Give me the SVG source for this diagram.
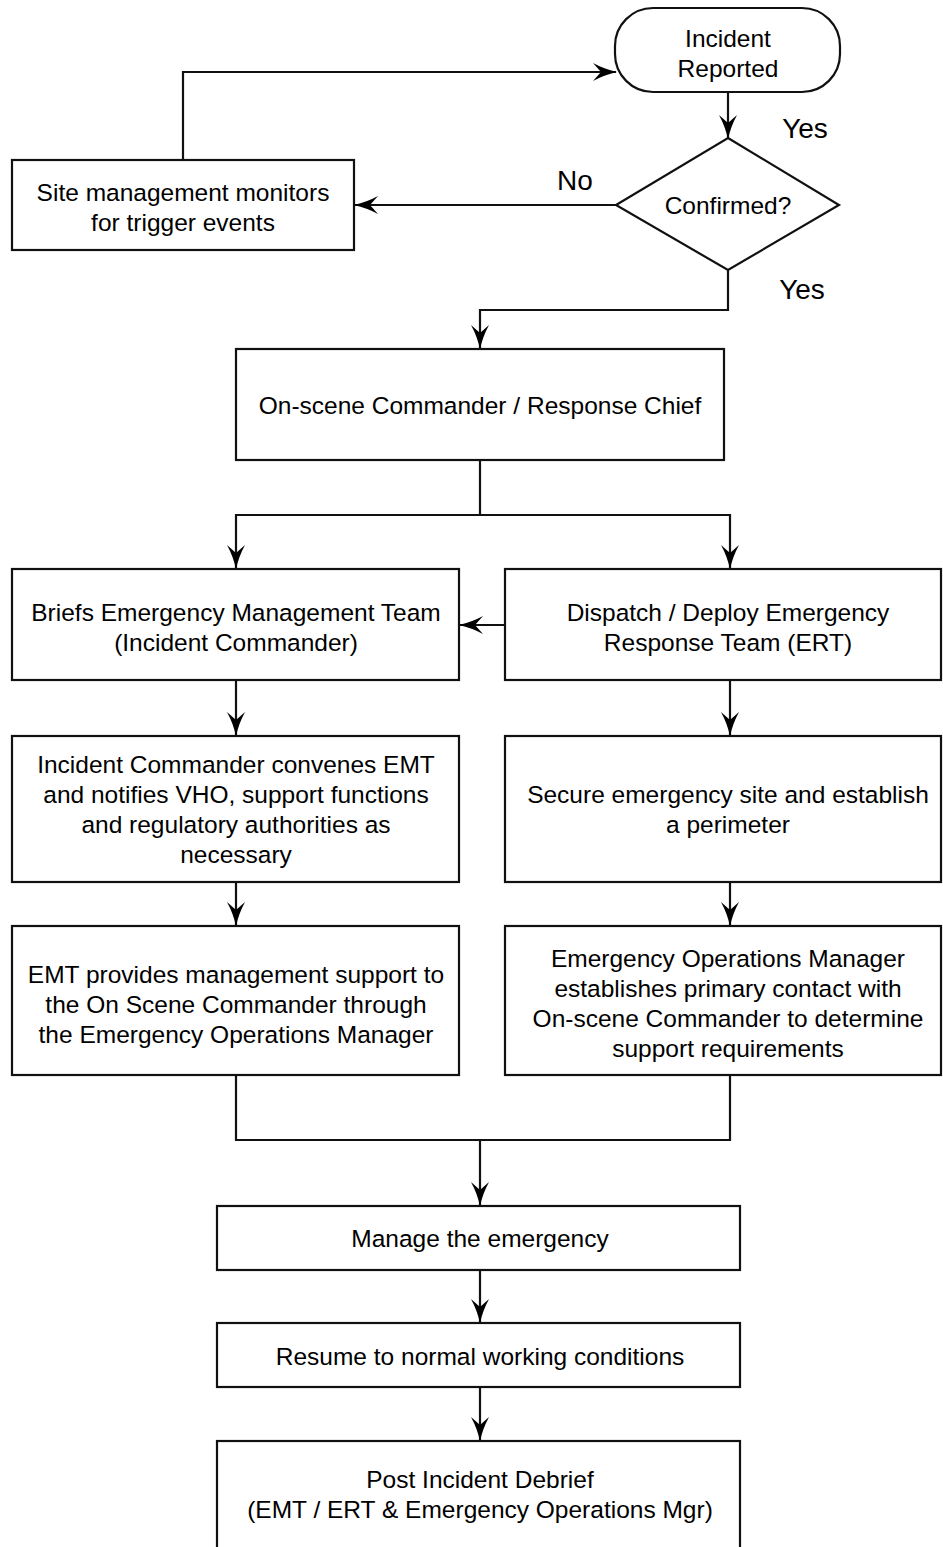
<svg xmlns="http://www.w3.org/2000/svg" width="943" height="1547" viewBox="0 0 943 1547">
<style>
.box{fill:#fff;stroke:#111;stroke-width:2.2}
.ln{fill:none;stroke:#111;stroke-width:2.2}
text{font-family:"Liberation Sans",Arial,sans-serif;font-size:24.5px;fill:#000;text-anchor:middle}
.lbl{font-size:28px}
</style>
<defs>
<marker id="ah" viewBox="0 0 24 18" markerWidth="24" markerHeight="18" refX="23" refY="9" orient="auto" markerUnits="userSpaceOnUse">
<path d="M0,0 Q11,6 24,9 Q11,12 0,18 L8,9 z" fill="#000"/>
</marker>
</defs>
<g id="connectors">
<path class="ln" d="M183,160 V72 H616" marker-end="url(#ah)"/>
<path class="ln" d="M728,92 V138" marker-end="url(#ah)"/>
<path class="ln" d="M616,205 H355" marker-end="url(#ah)"/>
<path class="ln" d="M728,270 V310 H480 V348" marker-end="url(#ah)"/>
<path class="ln" d="M480,460 V515 H236 V568" marker-end="url(#ah)"/>
<path class="ln" d="M480,515 H730 V568" marker-end="url(#ah)"/>
<path class="ln" d="M505,625 H460" marker-end="url(#ah)"/>
<path class="ln" d="M236,680 V735" marker-end="url(#ah)"/>
<path class="ln" d="M730,680 V735" marker-end="url(#ah)"/>
<path class="ln" d="M236,882 V925" marker-end="url(#ah)"/>
<path class="ln" d="M730,882 V925" marker-end="url(#ah)"/>
<path class="ln" d="M236,1075 V1140 H730 V1075"/>
<path class="ln" d="M480,1140 V1205" marker-end="url(#ah)"/>
<path class="ln" d="M480,1270 V1322" marker-end="url(#ah)"/>
<path class="ln" d="M480,1387 V1440" marker-end="url(#ah)"/>
</g>
<g id="lbl-yes1"><text class="lbl" x="805" y="138">Yes</text></g>
<g id="lbl-no"><text class="lbl" x="575" y="190">No</text></g>
<g id="lbl-yes2"><text class="lbl" x="802" y="299">Yes</text></g>
<g id="n-incident">
<rect class="box" x="615" y="8" width="225" height="84" rx="38" ry="38"/>
<text x="728" y="47">Incident</text>
<text x="728" y="77">Reported</text>
</g>
<g id="n-confirmed">
<polygon class="box" points="728,138 839,205 728,270 616,205"/>
<text x="728" y="214">Confirmed?</text>
</g>
<g id="n-site">
<rect class="box" x="12" y="160" width="342" height="90"/>
<text x="183" y="201">Site management monitors</text>
<text x="183" y="231">for trigger events</text>
</g>
<g id="n-onscene">
<rect class="box" x="236" y="349" width="488" height="111"/>
<text x="480" y="414">On-scene Commander / Response Chief</text>
</g>
<g id="n-briefs">
<rect class="box" x="12" y="569" width="447" height="111"/>
<text x="236" y="621">Briefs Emergency Management Team</text>
<text x="236" y="651">(Incident Commander)</text>
</g>
<g id="n-dispatch">
<rect class="box" x="505" y="569" width="436" height="111"/>
<text x="728" y="621">Dispatch / Deploy Emergency</text>
<text x="728" y="651">Response Team (ERT)</text>
</g>
<g id="n-convenes">
<rect class="box" x="12" y="736" width="447" height="146"/>
<text x="236" y="773">Incident Commander convenes EMT</text>
<text x="236" y="803">and notifies VHO, support functions</text>
<text x="236" y="833">and regulatory authorities as</text>
<text x="236" y="863">necessary</text>
</g>
<g id="n-secure">
<rect class="box" x="505" y="736" width="436" height="146"/>
<text x="728" y="803">Secure emergency site and establish</text>
<text x="728" y="833">a perimeter</text>
</g>
<g id="n-emt">
<rect class="box" x="12" y="926" width="447" height="149"/>
<text x="236" y="983">EMT provides management support to</text>
<text x="236" y="1013">the On Scene Commander through</text>
<text x="236" y="1043">the Emergency Operations Manager</text>
</g>
<g id="n-eom">
<rect class="box" x="505" y="926" width="436" height="149"/>
<text x="728" y="967">Emergency Operations Manager</text>
<text x="728" y="997">establishes primary contact with</text>
<text x="728" y="1027">On-scene Commander to determine</text>
<text x="728" y="1057">support requirements</text>
</g>
<g id="n-manage">
<rect class="box" x="217" y="1206" width="523" height="64"/>
<text x="480" y="1247">Manage the emergency</text>
</g>
<g id="n-resume">
<rect class="box" x="217" y="1323" width="523" height="64"/>
<text x="480" y="1365">Resume to normal working conditions</text>
</g>
<g id="n-post">
<rect class="box" x="217" y="1441" width="523" height="120"/>
<text x="480" y="1488">Post Incident Debrief</text>
<text x="480" y="1518">(EMT / ERT &amp; Emergency Operations Mgr)</text>
</g>
</svg>
